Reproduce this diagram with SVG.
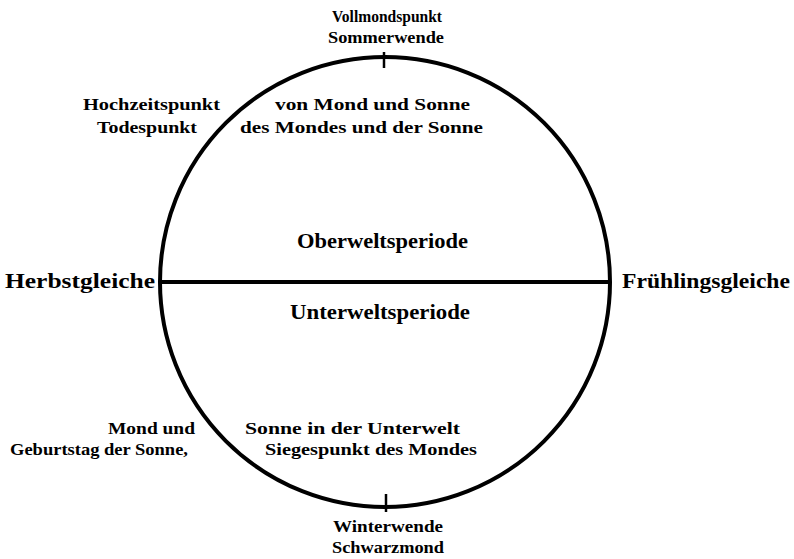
<svg xmlns="http://www.w3.org/2000/svg" width="794" height="559" viewBox="0 0 794 559">
<style>
.s{font-family:"Liberation Serif","DejaVu Serif",serif;font-weight:bold;font-size:16px;fill:#000}
.m{font-family:"Liberation Serif","DejaVu Serif",serif;font-weight:bold;font-size:21px;fill:#000}
.ln{stroke:#000;fill:none}
</style>
<rect width="794" height="559" fill="#fff"/>
<g id="connectors">
<circle class="ln" cx="385" cy="282" r="225" stroke-width="4"/>
<line class="ln" x1="160" y1="282" x2="610" y2="282" stroke-width="4"/>
<line class="ln" x1="384" y1="52" x2="384" y2="68" stroke-width="2.5"/>
<line class="ln" x1="386" y1="494" x2="386" y2="512" stroke-width="2.5"/>
</g>
<g id="top"><text class="s" x="332" y="22" textLength="110" lengthAdjust="spacingAndGlyphs">Vollmondspunkt</text><text class="s" x="328" y="43" textLength="116" lengthAdjust="spacingAndGlyphs">Sommerwende</text></g>
<g id="upper-left"><text class="s" x="83" y="110" textLength="137" lengthAdjust="spacingAndGlyphs">Hochzeitspunkt</text><text class="s" x="97" y="133" textLength="100" lengthAdjust="spacingAndGlyphs">Todespunkt</text></g>
<g id="upper-inner"><text class="s" x="275" y="110" textLength="195" lengthAdjust="spacingAndGlyphs">von Mond und Sonne</text><text class="s" x="240" y="133" textLength="243" lengthAdjust="spacingAndGlyphs">des Mondes und der Sonne</text></g>
<g id="ober"><text class="m" x="297" y="248" textLength="171" lengthAdjust="spacingAndGlyphs">Oberweltsperiode</text></g>
<g id="unter"><text class="m" x="290" y="319" textLength="180" lengthAdjust="spacingAndGlyphs">Unterweltsperiode</text></g>
<g id="herbst"><text class="m" x="5" y="288" textLength="150" lengthAdjust="spacingAndGlyphs">Herbstgleiche</text></g>
<g id="fruehling"><text class="m" x="622" y="288" textLength="168" lengthAdjust="spacingAndGlyphs">Frühlingsgleiche</text></g>
<g id="lower-left"><text class="s" x="108" y="434" textLength="87" lengthAdjust="spacingAndGlyphs">Mond und</text><text class="s" x="10" y="455" textLength="178" lengthAdjust="spacingAndGlyphs">Geburtstag der Sonne,</text></g>
<g id="lower-inner"><text class="s" x="245" y="434" textLength="215" lengthAdjust="spacingAndGlyphs">Sonne in der Unterwelt</text><text class="s" x="265" y="455" textLength="212" lengthAdjust="spacingAndGlyphs">Siegespunkt des Mondes</text></g>
<g id="bottom"><text class="s" x="333" y="532" textLength="110" lengthAdjust="spacingAndGlyphs">Winterwende</text><text class="s" x="332" y="553" textLength="112" lengthAdjust="spacingAndGlyphs">Schwarzmond</text></g>
</svg>
